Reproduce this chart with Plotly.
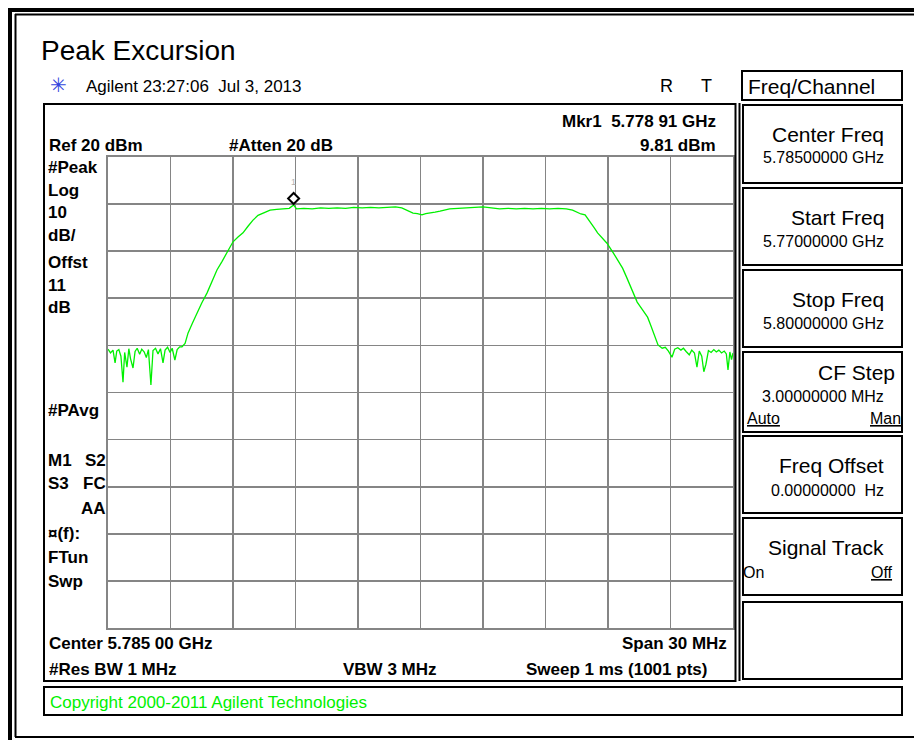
import plotly.graph_objects as go

# ---------------- data ----------------
freq_ghz = [
    5.77000, 5.77012, 5.77024, 5.77034, 5.77042, 5.77052, 5.77062, 5.77072, 5.77080, 5.77091,
    5.77100, 5.77108, 5.77120, 5.77130, 5.77140, 5.77152, 5.77162, 5.77174, 5.77184, 5.77194,
    5.77206, 5.77216, 5.77228, 5.77240, 5.77252, 5.77264, 5.77274, 5.77286, 5.77298, 5.77308,
    5.77321, 5.77332, 5.77344, 5.77355,
    5.77370, 5.77384, 5.77405, 5.77427, 5.77450, 5.77475, 5.77500, 5.77523, 5.77547, 5.77571,
    5.77600, 5.77624, 5.77648, 5.77672, 5.77696, 5.77720, 5.77744, 5.77778, 5.77810, 5.77840,
    5.77870, 5.77891, 5.77905, 5.77940, 5.77980, 5.78020, 5.78060, 5.78100, 5.78140, 5.78180,
    5.78220, 5.78260, 5.78300, 5.78340, 5.78380, 5.78410, 5.78435, 5.78464, 5.78485, 5.78507,
    5.78525, 5.78546, 5.78570, 5.78594, 5.78640, 5.78680, 5.78720, 5.78760, 5.78800, 5.78840,
    5.78880, 5.78920, 5.78960, 5.79000, 5.79040, 5.79080, 5.79120, 5.79160, 5.79200, 5.79230,
    5.79250, 5.79270, 5.79290, 5.79305, 5.79320, 5.79335, 5.79350, 5.79370, 5.79395, 5.79426,
    5.79448, 5.79470, 5.79488, 5.79506, 5.79523, 5.79540, 5.79565, 5.79590, 5.79605, 5.79620,
    5.79640, 5.79660,
    5.79675, 5.79690, 5.79707, 5.79720, 5.79735, 5.79750, 5.79762, 5.79775, 5.79790, 5.79802,
    5.79815, 5.79827, 5.79838, 5.79850, 5.79860, 5.79870, 5.79882, 5.79895, 5.79908, 5.79920,
    5.79932, 5.79945, 5.79958, 5.79968, 5.79976, 5.79985, 5.79993, 5.80000,
]
level_dbm = [
    -20.8, -21.6, -21.0, -23.7, -21.2, -20.9, -22.3, -27.8, -21.5, -24.6,
    -20.7, -22.8, -24.8, -21.3, -20.6, -21.9, -20.8, -21.4, -22.6, -20.9,
    -28.4, -21.1, -20.6, -21.8, -20.7, -23.7, -21.0, -20.4, -21.5, -20.6,
    -23.1, -20.9, -20.3, -20.3,
    -19.6, -17.4, -15.3, -13.1, -11.0, -8.9, -6.3, -4.0, -2.2, -0.4,
    2.0, 3.0, 3.9, 5.3, 6.6, 7.6, 8.1, 8.7, 8.9, 9.0,
    9.1, 9.81, 9.0, 9.1, 9.0, 9.2, 9.1, 9.2, 9.1, 9.3,
    9.2, 9.3, 9.2, 9.3, 9.4, 9.2, 8.7, 8.1, 8.0, 7.7,
    8.0, 8.1, 8.3, 8.5, 9.0, 9.1, 9.2, 9.3, 9.4, 9.2,
    9.0, 9.1, 9.0, 9.1, 9.0, 9.1, 9.0, 9.1, 9.0, 8.7,
    8.3, 7.9, 7.7, 6.8, 6.0, 4.9, 3.9, 2.9, 1.7, -0.4,
    -2.0, -3.6, -5.4, -7.2, -9.0, -10.8, -12.4, -14.0, -15.7, -17.4,
    -19.9, -20.6,
    -20.4, -21.2, -22.5, -20.8, -20.5, -21.0, -20.6, -21.3, -22.0, -21.0,
    -21.6, -24.6, -21.2, -22.3, -25.6, -24.0, -21.1, -21.5, -20.9, -21.4,
    -21.0, -21.6, -21.2, -21.8, -25.2, -21.4, -23.0, -21.6,
]
marker_freq_ghz = 5.77891
marker_level_dbm = 9.81

start_ghz, stop_ghz = 5.770, 5.800
ref_dbm, bottom_dbm = 20, -80

left_labels = [("#Peak", 167), ("Log", 190), ("10", 213), ("dB/", 236), ("Offst", 263),
               ("11", 285), ("dB", 307), ("#PAvg", 410), ("M1", 460), ("S3", 483),
               ("¤(f):", 533), ("FTun", 557), ("Swp", 581)]
left_labels_right = [("S2", 460), ("FC", 483), ("AA", 508)]

softkey_titles = [("Center Freq", 134), ("Start Freq", 217), ("Stop Freq", 299),
                  ("CF Step", 372), ("Freq Offset", 465), ("Signal Track", 547)]
softkey_values = [("5.78500000 GHz", 157), ("5.77000000 GHz", 241), ("5.80000000 GHz", 323),
                  ("3.00000000 MHz", 396), ("0.00000000  Hz", 490)]

# ---------------- layout helpers ----------------
# the page body has an 8 px margin; positions below are window pixels,
# shifted by that margin (the figure overflows the window by 8 px, unseen)
OFF = 8
W, H = 922, 740
def px(x):
    return (x - OFF) / W
def py(y):
    return 1 - (y - OFF) / H

FONT = "Liberation Sans, Arial, sans-serif"
GREEN = "#00f000"

fig = go.Figure()
fig.add_trace(go.Scatter(x=freq_ghz, y=level_dbm, mode="lines",
                         line=dict(color=GREEN, width=1.3), hoverinfo="skip",
                         showlegend=False))

shapes = []
def rect(x0, y0, x1, y1, w=2, color="black"):
    shapes.append(dict(type="rect", xref="paper", yref="paper",
                       x0=px(x0), x1=px(x1), y0=py(y0), y1=py(y1),
                       line=dict(color=color, width=w), fillcolor="rgba(0,0,0,0)", layer="above"))
def line(x0, y0, x1, y1, w=2, color="black"):
    shapes.append(dict(type="line", xref="paper", yref="paper",
                       x0=px(x0), x1=px(x1), y0=py(y0), y1=py(y1),
                       line=dict(color=color, width=w), layer="above"))

# outer frame
line(7, 9.5, 930, 9.5, w=5)
line(15, 14.5, 930, 14.5, w=2)
line(9.5, 7, 9.5, 745, w=5)
line(15.5, 14, 15.5, 737, w=2)
line(15, 737, 930, 737, w=2)
# main box and copyright box
rect(44, 104, 735.5, 681)
line(739.5, 103, 739.5, 681)
rect(44, 687, 902, 715)
# softkey boxes
rect(742, 71, 902, 100)
for (t, b) in [(105, 183), (188, 265), (270, 347), (352, 432), (436, 513), (518, 595), (602, 679)]:
    rect(743, t, 902, b)

# marker diamond (pixel-sized, anchored at marker data point)
shapes.append(dict(type="path", xref="x", yref="y", xsizemode="pixel", ysizemode="pixel",
                   xanchor=marker_freq_ghz, yanchor=marker_level_dbm,
                   path="M0,1 L5.5,6.5 L0,12 L-5.5,6.5 Z",
                   line=dict(color="black", width=2), fillcolor="white", layer="above"))

ann = []
def text(x, y, s, size=17, bold=False, anchor="left", color="black", family=FONT):
    ann.append(dict(x=px(x), y=py(y), xref="paper", yref="paper", showarrow=False,
                    text=f"<b>{s}</b>" if bold else s, xanchor=anchor, yanchor="middle",
                    font=dict(size=size, color=color, family=family)))

text(39, 51, "Peak Excursion", size=28)
text(48, 85, "✳", size=20, color="#3344dd", family="DejaVu Sans")
text(84, 86, "Agilent 23:27:06  Jul 3, 2013", size=17)
text(658, 86, "R", size=18)
text(699, 86, "T", size=18)
text(746, 86, "Freq/Channel", size=21)

text(47, 145, "Ref 20 dBm", bold=True)
text(227, 145, "#Atten 20 dB", bold=True)
text(718, 122, "Mkr1  5.778 91 GHz", bold=True, anchor="right")
text(718, 145, "9.81 dBm", bold=True, anchor="right")
for s, y in left_labels:
    text(46, y, s, bold=True)
for s, y in left_labels_right:
    text(108, y, s, bold=True, anchor="right")
text(47, 643, "Center 5.785 00 GHz", bold=True)
text(729, 643, "Span 30 MHz", bold=True, anchor="right")
text(47, 669, "#Res BW 1 MHz", bold=True)
text(341, 669, "VBW 3 MHz", bold=True)
text(709, 669, "Sweep 1 ms (1001 pts)", bold=True, anchor="right")
text(48, 702, "Copyright 2000-2011 Agilent Technologies", size=17, color=GREEN)

for s, y in softkey_titles:
    text(886 if s != "CF Step" else 897, y, s, size=21, anchor="right")
for s, y in softkey_values:
    text(886, y, s, size=16, anchor="right")
text(745, 418, "<u>Auto</u>", size=16)
text(903, 418, "<u>Man</u>", size=16, anchor="right")
text(741, 572, "On", size=16)
text(895, 572, "<u>Off</u>", size=16, anchor="right")

# marker number
ann.append(dict(x=marker_freq_ghz, y=marker_level_dbm, xref="x", yref="y", showarrow=False,
                text="1", yshift=23, font=dict(size=9, color="#b0b0b0", family=FONT)))

grid = dict(showgrid=True, gridcolor="#858585", gridwidth=1.6, zeroline=False,
            showticklabels=False, ticks="", showline=True, linecolor="#858585",
            linewidth=1.6, mirror=True, fixedrange=True)

fig.update_layout(
    width=W, height=H, margin=dict(l=0, r=0, t=0, b=0),
    paper_bgcolor="white", plot_bgcolor="white", showlegend=False,
    xaxis=dict(range=[start_ghz, stop_ghz], tick0=start_ghz, dtick=0.003,
               domain=[px(108), px(733)], **grid),
    yaxis=dict(range=[bottom_dbm, ref_dbm], tick0=bottom_dbm, dtick=10,
               domain=[py(628), py(157)], **grid),
    shapes=shapes, annotations=ann,
)

fig.write_html("out.html", config={"displayModeBar": False, "staticPlot": True})
